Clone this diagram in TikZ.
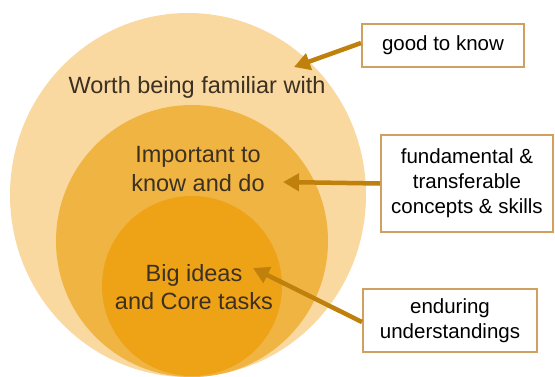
\documentclass[tikz,border=0pt]{standalone}
\usepackage{fontspec}
\setmainfont{Liberation Sans}
\usetikzlibrary{arrows.meta}
\definecolor{ringouter}{RGB}{249,217,160}
\definecolor{ringmid}{RGB}{240,180,66}
\definecolor{ringinner}{RGB}{238,162,22}
\definecolor{pointer}{RGB}{192,128,12}
\definecolor{boxedge}{RGB}{208,160,96}
\definecolor{ringtext}{RGB}{60,48,34}
\tikzset{
  ringlabel/.style={text=ringtext, align=center, font=\fontsize{23.5}{28.5}\selectfont, inner sep=0pt},
  notebox/.style={draw=boxedge, line width=2pt, fill=white, align=center, text=black,
    font=\fontsize{20.5}{25}\selectfont, inner sep=0pt},
  pointerarrow/.style={draw=pointer, line width=4.5pt, -{Triangle[length=16pt,width=17pt]}}
}
\begin{document}
\begin{tikzpicture}[x=1pt,y=-1pt]
  \useasboundingbox (0,0) rectangle (555,376);
  % nested rings, tangent near the bottom
  \fill[ringouter] (188,195) ellipse [x radius=178, y radius=182];
  \fill[ringmid] (192,241) ellipse [x radius=136, y radius=136];
  \fill[ringinner] (192,286) ellipse [x radius=90, y radius=90];
  % ring labels
  \node[ringlabel] (worth) at (197,87) {Worth being familiar with};
  \node[ringlabel] (important) at (198,169) {Important to\\know and do};
  \node[ringlabel] (big) at (194,287) {Big ideas\\and Core tasks};
  % note boxes
  \node[notebox, minimum width=162pt, minimum height=43pt] (good) at (443,45.5) {good to know};
  \node[notebox, minimum width=172pt, minimum height=97pt] (fund) at (467,183.5) {fundamental \&\\transferable\\concepts \& skills};
  \node[notebox, minimum width=174pt, minimum height=63pt] (endur) at (450,320.5) {enduring\\understandings};
  % pointers from the notes into the rings
  \coordinate (tipgood) at (294,67);
  \coordinate (tipfund) at (283,182);
  \coordinate (tipendur) at (253,268);
  \draw[pointerarrow] (good.west |- 0,43) -- (tipgood);
  \draw[pointerarrow] (fund.west) -- (tipfund);
  \draw[pointerarrow] (endur.west |- 0,322) -- (tipendur);
\end{tikzpicture}
\end{document}
